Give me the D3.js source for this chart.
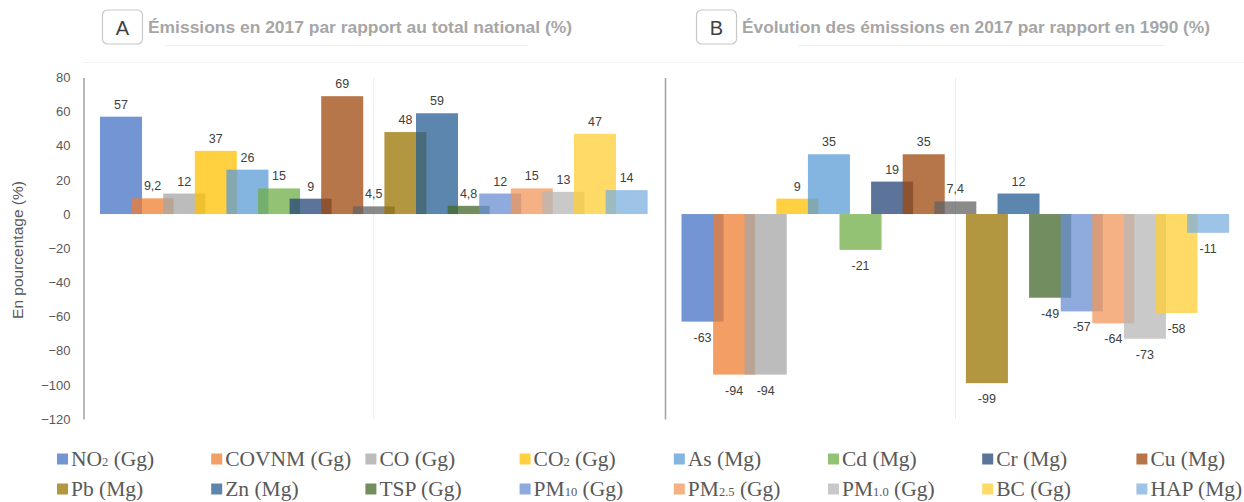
<!DOCTYPE html>
<html>
<head>
<meta charset="utf-8">
<script src="https://cdn.jsdelivr.net/npm/d3@7"></script>
<style>
  html, body { margin: 0; padding: 0; background: #ffffff; }
  svg { display: block; }
</style>
</head>
<body>
<svg id="chart" width="1244" height="502"></svg>
<script>
// ---------- DATA ----------
const seriesNames = ["NO2 (Gg)", "COVNM (Gg)", "CO (Gg)", "CO2 (Gg)", "As (Mg)", "Cd (Mg)", "Cr (Mg)", "Cu (Mg)",
  "Série sans légende", "Pb (Mg)", "Zn (Mg)", "TSP (Gg)", "PM10 (Gg)", "PM2.5 (Gg)", "PM1.0 (Gg)", "BC (Gg)", "HAP (Mg)"];
const seriesInLegend = [true, true, true, true, true, true, true, true, false, true, true, true, true, true, true, true, true];
// legend label pieces: [main, subscript, rest]
const legendParts = [["NO", "2", " (Gg)"], ["COVNM", "", " (Gg)"], ["CO", "", " (Gg)"], ["CO", "2", " (Gg)"],
  ["As", "", " (Mg)"], ["Cd", "", " (Mg)"], ["Cr", "", " (Mg)"], ["Cu", "", " (Mg)"], ["", "", ""],
  ["Pb", "", " (Mg)"], ["Zn", "", " (Mg)"], ["TSP", "", " (Gg)"], ["PM", "10", " (Gg)"], ["PM", "2.5", " (Gg)"],
  ["PM", "1.0", " (Gg)"], ["BC", "", " (Gg)"], ["HAP", "", " (Mg)"]];
const seriesColors = ["#4472C4", "#ED7D31", "#A5A5A5", "#FFC000", "#5B9BD5", "#70AD47", "#264478", "#9E480E",
  "#636363", "#997300", "#255E91", "#43682B", "#698ED0", "#F1975A", "#B7B7B7", "#FFCD33", "#7CAFDD"];
// Panel A: émissions 2017 / total national (%)
const valuesA = [57, 9.2, 12, 37, 26, 15, 9, 69, 4.5, 48, 59, 4.8, 12, 15, 13, 47, 14];
// Panel B: évolution 2017 / 1990 (%)
const valuesB = [-63, -94, -94, 9, 35, -21, 19, 35, 7.4, -99, 12, -49, -57, -64, -73, -58, -11];
const yTicks = [80, 60, 40, 20, 0, -20, -40, -60, -80, -100, -120];
const panelLetters = ["A", "B"];
const panelTitles = ["Émissions en 2017 par rapport au total national (%)",
  "Évolution des émissions en 2017 par rapport en 1990 (%)"];
const yAxisTitle = "En pourcentage (%)";

// ---------- LAYOUT ----------
const svg = d3.select("#chart");
const sans = "'Liberation Sans', Arial, sans-serif";
const serif = "'Liberation Serif', 'Times New Roman', serif";
const y = d3.scaleLinear().domain([-120, 80]).range([419, 77.4]);
const fmt = v => String(v).replace(".", ",");

const panels = [
  { left: 83.5, right: 664, values: valuesA, showTicks: true,
    box: [102.5, 10, 40, 34], titleX: 148, titleW: 424, line: [165, 528] },
  { left: 665, right: 1246, values: valuesB, showTicks: false,
    box: [696.5, 10, 40, 34], titleX: 742, titleW: 468, line: [798, 1165] }
];

// faint chart-area top border
svg.append("line").attr("x1", 83).attr("x2", 1244).attr("y1", 62.5).attr("y2", 62.5)
  .attr("stroke", "#F3F3F3").attr("stroke-width", 1);

panels.forEach((p, pi) => {
  const g = svg.append("g");
  const barPad = 16.5, step = 31.6;
  const x = d3.scaleBand().domain(d3.range(seriesNames.length))
    .range([p.left + barPad, p.left + barPad + step * seriesNames.length]).padding(0);
  const barW = x.bandwidth() * 1.33;

  // mid divider
  const mid = (p.left + p.right) / 2;
  g.append("line").attr("x1", mid).attr("x2", mid).attr("y1", y(80)).attr("y2", y(-120))
    .attr("stroke", "#ECECEC").attr("stroke-width", 1);

  // y axis
  const axis = d3.axisLeft(y).tickValues(yTicks).tickSize(0).tickPadding(13);
  const ag = g.append("g").attr("transform", `translate(${p.left},0)`).call(axis);
  ag.select(".domain").attr("stroke", "#A6A6A6").attr("stroke-width", 1.6);
  ag.selectAll("text").attr("fill", "#595959").style("font-family", sans).style("font-size", "13px")
    .attr("opacity", p.showTicks ? 1 : 0);

  // bars
  g.selectAll("rect.bar").data(p.values).join("rect").attr("class", "bar")
    .attr("x", (d, i) => x(i))
    .attr("width", barW)
    .attr("y", d => y(Math.max(0, d)))
    .attr("height", d => Math.abs(y(d) - y(0)))
    .attr("fill", (d, i) => seriesColors[i])
    .attr("fill-opacity", 0.75);

  // data labels
  g.selectAll("text.lbl").data(p.values).join("text").attr("class", "lbl")
    .attr("x", (d, i) => x(i) + barW / 2)
    .attr("y", d => d >= 0 ? y(d) - 8 : y(d) + 20)
    .attr("text-anchor", "middle")
    .attr("fill", "#404040")
    .style("font-family", sans).style("font-size", "12.5px")
    .text(d => fmt(d));

  // title box
  g.append("rect").attr("x", p.box[0]).attr("y", p.box[1]).attr("width", p.box[2]).attr("height", p.box[3])
    .attr("rx", 5).attr("fill", "#fff").attr("stroke", "#C8C8C8").attr("stroke-width", 1.2);
  g.append("text").attr("x", p.box[0] + p.box[2] / 2).attr("y", p.box[1] + 25)
    .attr("text-anchor", "middle").attr("fill", "#404040")
    .style("font-family", sans).style("font-size", "20px").text(panelLetters[pi]);
  g.append("text").attr("x", p.titleX).attr("y", 33)
    .attr("fill", "#A6A6A6").style("font-family", sans).style("font-size", "16px").style("font-weight", "bold")
    .attr("textLength", p.titleW).attr("lengthAdjust", "spacingAndGlyphs")
    .text(panelTitles[pi]);
  g.append("line").attr("x1", p.line[0]).attr("x2", p.line[1]).attr("y1", 45.5).attr("y2", 45.5)
    .attr("stroke", "#EEEEEE").attr("stroke-width", 1);
});

// y axis title
svg.append("text").attr("transform", "translate(23,250) rotate(-90)")
  .attr("text-anchor", "middle").attr("fill", "#595959")
  .style("font-family", sans).style("font-size", "15.5px").text(yAxisTitle);

// ---------- LEGEND ----------
const legendItems = d3.range(seriesNames.length).filter(i => seriesInLegend[i]);
const lg = svg.append("g");
const colX = d3.scalePoint().domain(d3.range(8)).range([57, 57 + 7 * 154.2]);
const rowY = [459, 489];
legendItems.forEach((si, k) => {
  const cx = colX(k % 8), cy = rowY[Math.floor(k / 8)];
  lg.append("rect").attr("x", cx).attr("y", cy - 5.5).attr("width", 11).attr("height", 11)
    .attr("fill", seriesColors[si]).attr("fill-opacity", 0.75);
  const t = lg.append("text").attr("x", cx + 14).attr("y", cy + 7)
    .attr("fill", "#595959").style("font-family", serif).style("font-size", "21.5px");
  const parts = legendParts[si];
  t.append("tspan").text(parts[0]);
  if (parts[1]) t.append("tspan").style("font-size", "12.5px").text(parts[1]);
  t.append("tspan").text(parts[2]);
});
</script>
</body>
</html>
